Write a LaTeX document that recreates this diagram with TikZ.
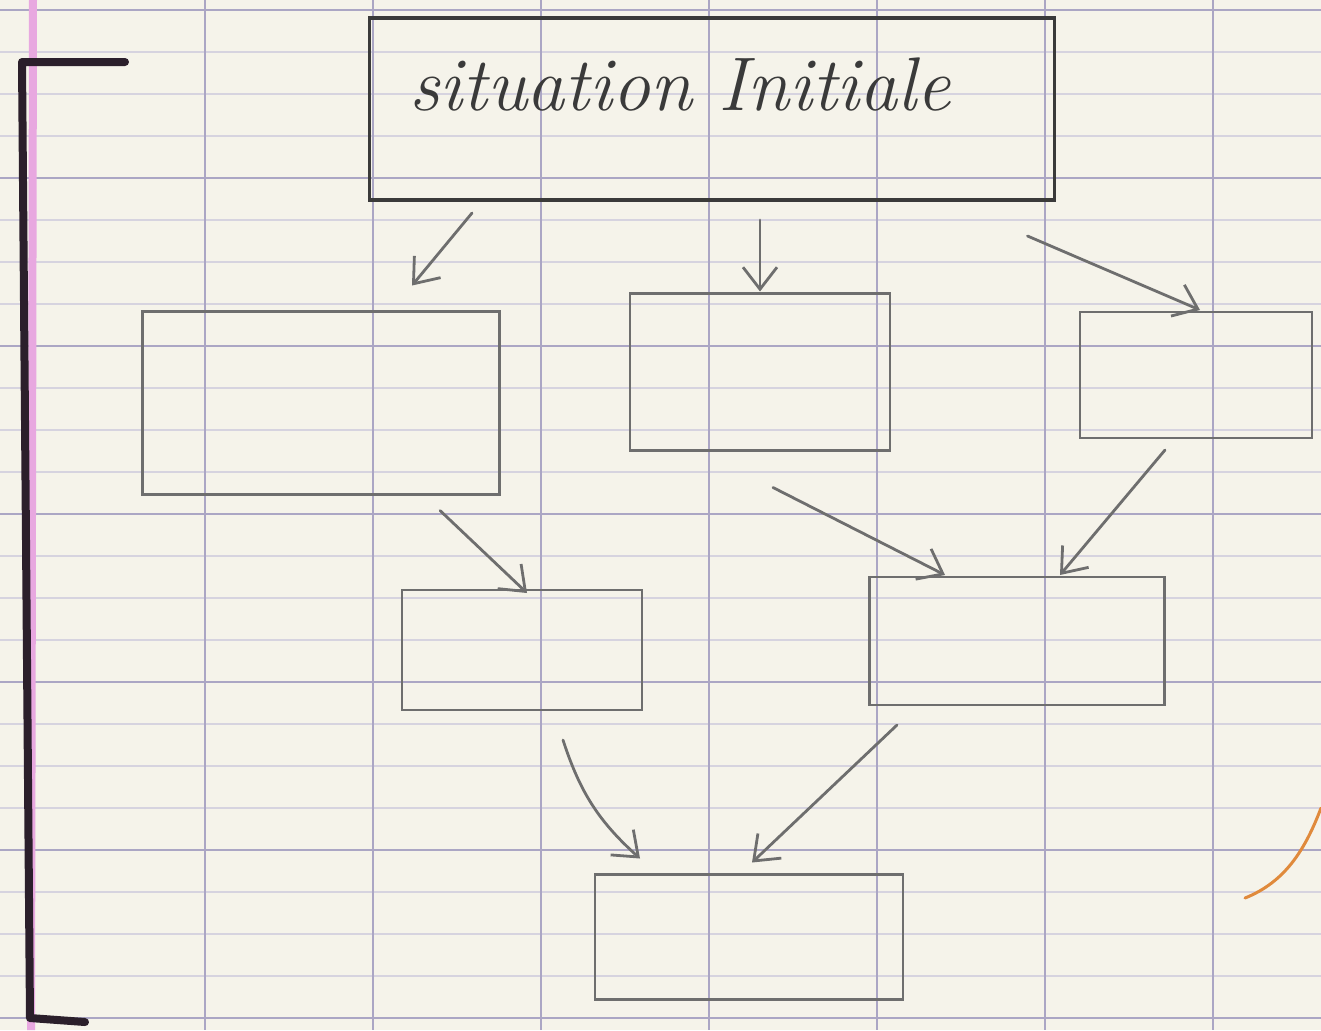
\documentclass[tikz,border=0pt]{standalone}
\usetikzlibrary{arrows.meta,calc}
\definecolor{paper}{HTML}{F5F3EA}
\definecolor{majorline}{HTML}{ABA6C4}
\definecolor{minorline}{HTML}{D6D3DF}
\definecolor{marginpink}{HTML}{E8A8E0}
\definecolor{pencil}{HTML}{6E6E6E}
\definecolor{ink}{HTML}{3A3A3A}
\definecolor{marker}{HTML}{2B1F2B}
\definecolor{orangeink}{HTML}{E08A3C}
\tikzset{
  box/.style={draw=pencil, line width=1.4pt, inner sep=0pt, outer sep=0pt, rectangle},
  topbox/.style={draw=ink, line width=1.6pt, inner sep=0pt, outer sep=0pt, rectangle},
  arr/.style={draw=pencil, line width=1.4pt, line cap=round, -{Straight Barb[length=11pt,width=17pt,line width=1.4pt]}},
  gridmajor/.style={draw=majorline, line width=0.9pt},
  gridminor/.style={draw=minorline, line width=0.7pt}
}
\begin{document}
\begin{tikzpicture}[x=0.5pt,y=-0.5pt]
\useasboundingbox (0,0) rectangle (1321,1030);
\fill[paper] (0,0) rectangle (1321,1030);
% grid
\foreach \i in {0,...,24} {
  \pgfmathtruncatemacro{\m}{mod(\i,4)}
  \ifnum\m=0
    \draw[gridmajor] (0,10+42*\i) -- (1321,10+42*\i);
  \else
    \draw[gridminor] (0,10+42*\i) -- (1321,10+42*\i);
  \fi
}
\foreach \xx in {205,373,541,709,877,1045,1213} {
  \draw[gridmajor] (\xx,0) -- (\xx,1030);
}
\draw[marginpink, line width=4pt] (33,0) -- (31,1030);
% bracket
\draw[marker, line width=4pt, line join=round, line cap=round] (125,62) -- (22,62) -- (30,1018) -- (85,1022);
% orange stroke
\draw[orangeink, line width=1.5pt, line cap=round] (1245,898) .. controls (1285,882) and (1305,850) .. (1321,808);
% boxes
\node[topbox, minimum width=342.5pt, minimum height=91pt] (init) at (712,109) {};
\node[font=\fontsize{38}{44}\selectfont\itshape, text=ink, inner sep=0pt] (title) at (680,84) {situation Initiale};
\node[box, minimum width=178.5pt, minimum height=91.5pt] (b1) at (321,403) {};
\node[box, minimum width=130pt, minimum height=78.5pt] (b2) at (760,372) {};
\node[box, minimum width=116pt, minimum height=63pt] (b3) at (1196,375) {};
\node[box, minimum width=120pt, minimum height=60pt] (b4) at (522,650) {};
\node[box, minimum width=147.5pt, minimum height=64pt] (b5) at (1017,641) {};
\node[box, minimum width=154pt, minimum height=62.5pt] (b6) at (749,937) {};
% arrows
\draw[arr] ([shift={(-240,13)}]init.south) -- ([shift={(91,-26)}]b1.north);
\draw[arr] ([shift={(48,20)}]init.south) -- ([shift={(0,-2)}]b2.north);
\draw[arr] ([shift={(-27,36)}]init.south east) -- ([shift={(4,-2)}]b3.north);
\draw[arr] ([shift={(119,16)}]b1.south) -- ([shift={(5,3)}]b4.north);
\draw[arr] ([shift={(13,37)}]b2.south) -- ([shift={(-72,-2)}]b5.north);
\draw[arr] ([shift={(-31,12)}]b3.south) -- ([shift={(43,-2)}]b5.north);
\draw[arr] ([shift={(41,30)}]b4.south) to[bend right=15] ([shift={(-109,-16)}]b6.north);
\draw[arr] ([shift={(-120,20)}]b5.south) -- ([shift={(3,-12)}]b6.north);
\end{tikzpicture}
\end{document}
